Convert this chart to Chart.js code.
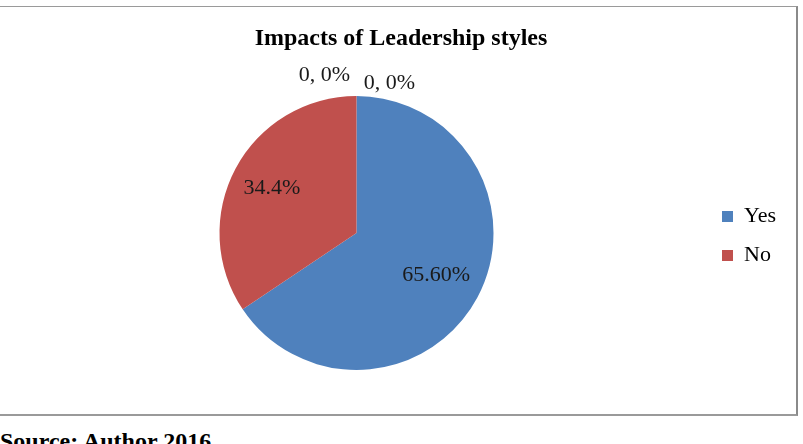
<!DOCTYPE html>
<html>
<head>
<meta charset="utf-8">
<script src="https://cdn.jsdelivr.net/npm/chart.js@4/dist/chart.umd.min.js"></script>
<style>
  html, body { margin: 0; padding: 0; background: #fff; width: 803px; height: 444px; overflow: hidden; }
  #wrap { position: absolute; left: 0; top: 0; width: 797px; height: 414px; }
  #frame { position: absolute; left: -2px; top: 6px; width: 800px; height: 410px; box-sizing: border-box;
           border: 1px solid #9a9a9a; border-right: 2px solid #8a8a8a; border-bottom: 2px solid #9a9a9a; pointer-events: none; }
  #title { position: absolute; left: 0; top: 23px; width: 802px; text-align: center; font: bold 24px "Liberation Serif", "Times New Roman", serif; line-height: 28.8px; color: #000; white-space: nowrap; }
  #source { position: absolute; left: 0; top: 428px; font: bold 24px "Liberation Serif", "Times New Roman", serif; line-height: 27px; color: #000; white-space: nowrap; }
</style>
</head>
<body>
<div id="wrap"><canvas id="c"></canvas></div>
<div id="frame"></div>
<div id="title"></div>
<div id="source">Source: Author 2016</div>
<script>
const chartTitle = "Impacts of Leadership styles";
const categories = ["Yes", "No", "", ""];
const values = [65.6, 34.4, 0, 0];
const dataLabels = ["65.60%", "34.4%", "0, 0%", "0, 0%"];
const labelRadius = [0.66, 0.70];
const colors = ["#4F81BD", "#C0504D", "#9BBB59", "#8064A2"];

document.getElementById('title').textContent = chartTitle;

const serif = '"Liberation Serif", "Times New Roman", serif';

const labelPlugin = {
  id: 'sliceLabels',
  afterDatasetsDraw(chart) {
    const ctx = chart.ctx;
    const meta = chart.getDatasetMeta(0);
    ctx.save();
    ctx.font = '22px ' + serif;
    ctx.fillStyle = '#1a1a1a';
    ctx.textAlign = 'center';
    ctx.textBaseline = 'middle';
    let zeroIdx = 0;
    meta.data.forEach((arc, i) => {
      const p = arc.getProps(['x', 'y', 'startAngle', 'endAngle', 'outerRadius'], true);
      if (values[i] > 0) {
        const mid = (p.startAngle + p.endAngle) / 2;
        const r = p.outerRadius * labelRadius[i];
        ctx.fillText(dataLabels[i], p.x + Math.cos(mid) * r, p.y + Math.sin(mid) * r);
      } else {
        const a = p.endAngle;
        const r = p.outerRadius + (zeroIdx === 0 ? 21 : 13);
        const dx = zeroIdx === 0 ? -32 : 33;
        ctx.fillText(dataLabels[i], p.x + Math.cos(a) * r + dx, p.y + Math.sin(a) * r);
        zeroIdx++;
      }
    });
    ctx.restore();
  }
};

new Chart(document.getElementById('c'), {
  type: 'pie',
  data: {
    labels: categories,
    datasets: [{
      data: values,
      backgroundColor: colors,
      borderWidth: 0
    }]
  },
  options: {
    responsive: true,
    maintainAspectRatio: false,
    animation: false,
    layout: { padding: { left: 8, right: 11, top: 96, bottom: 44 } },
    plugins: {
      title: { display: false },
      legend: {
        position: 'right',
        align: 'center',
        fullSize: false,
        title: { display: true, text: ' ', font: { size: 6, lineHeight: 1 }, padding: 0 },
        labels: {
          color: '#000',
          font: { family: serif, size: 22 },
          boxWidth: 11,
          boxHeight: 11,
          padding: 17,
          filter: (item) => item.text !== ''
        }
      },
      tooltip: { enabled: false }
    }
  },
  plugins: [labelPlugin]
});
</script>
</body>
</html>
